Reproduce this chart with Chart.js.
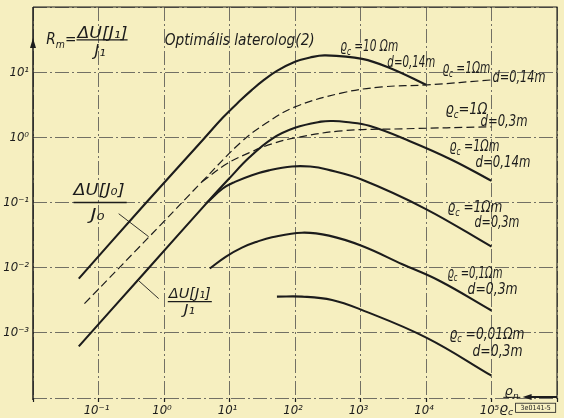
<!DOCTYPE html>
<html><head><meta charset="utf-8">
<script src="https://cdn.jsdelivr.net/npm/chart.js@4.4.1/dist/chart.umd.min.js"></script>
<style>html,body{margin:0;padding:0;background:#f6efc0;}canvas{display:block;}</style>
</head><body>
<canvas id="c" width="564" height="418"></canvas>
<script>
// ---------- data ----------
const xTickValues = [0.01, 0.1, 1, 10, 100, 1000, 10000, 100000, 1000000];
const xTickLabels = ['', '10⁻¹', '10⁰', '10¹', '10²', '10³', '10⁴', '10⁵', ''];
const yTickValues = [0.0001, 0.001, 0.01, 0.1, 1, 10, 100];
const yTickLabels = ['', '10⁻³', '10⁻²', '10⁻¹', '10⁰', '10¹', ''];

// ΔU[J1]/J1 , ϱc = 10 Ωm, d = 0.14 m
const rc10d014X = [0.05, 0.5, 4, 8, 14.4, 22, 33.6, 53, 100, 170, 288, 1060, 3050, 10000];
const rc10d014Y = [0.0068, 0.0924, 0.935, 2.03, 3.63, 5.35, 7.6, 10.45, 14.4, 16.8, 18.1, 16.0, 11.2, 6.4];
// ΔU[J1]/J1 , ϱc = 1 Ωm, d = 0.14 m
const rc1d014X = [0.05, 0.5, 4.8, 9.8, 19.8, 44.5, 100, 250, 380, 600, 1360, 5560, 25000, 100000];
const rc1d014Y = [0.00062, 0.0083, 0.106, 0.231, 0.485, 0.95, 1.40, 1.74, 1.78, 1.72, 1.50, 0.88, 0.45, 0.215];
// ΔU[J1]/J1 , ϱc = 1 Ωm, d = 0.3 m
const rc1d03X = [4.5, 7.9, 12.1, 22, 40, 90, 170, 310, 1060, 9800, 100000];
const rc1d03Y = [0.099, 0.164, 0.207, 0.263, 0.311, 0.357, 0.356, 0.32, 0.223, 0.080, 0.021];
// ΔU[J1]/J1 , ϱc = 0.1 Ωm, d = 0.3 m
const rc01d03X = [5, 8.85, 15.5, 26.2, 44.5, 128, 330, 1060, 4350, 16000, 100000];
const rc01d03Y = [0.0097, 0.0148, 0.0203, 0.025, 0.0293, 0.0344, 0.031, 0.0215, 0.0113, 0.0063, 0.0022];
// ΔU[J1]/J1 , ϱc = 0.01 Ωm, d = 0.3 m
const rc001d03X = [53, 128, 368, 1020, 10100, 100000];
const rc001d03Y = [0.0036, 0.0036, 0.0032, 0.00227, 0.000845, 0.00022];
// ΔU[J0]/J0 , d = 0.14 m
const j0d014X = [0.061, 0.92, 3.8, 15.5, 37, 100, 525, 2140, 10500, 100000];
const j0d014Y = [0.0028, 0.047, 0.208, 0.869, 1.67, 2.93, 4.81, 5.94, 6.38, 7.6];
// ΔU[J0]/J0 , d = 0.3 m
const j0d03X = [3.8, 9.1, 19.8, 44.5, 100, 525, 4350, 100000];
const j0d03Y = [0.208, 0.392, 0.578, 0.795, 0.98, 1.26, 1.35, 1.45];

// ---------- styling ----------
const BG = '#f6efc0';
const INK = '#1c1c1c';
const GRID = 'rgba(70,70,70,0.75)';
const FONT = '"DejaVu Sans Condensed", "Liberation Sans Narrow", "DejaVu Sans", sans-serif';

function series(xs, ys, extra) {
  return Object.assign({
    data: xs.map((x, i) => ({x: x, y: ys[i]})),
    showLine: true, pointRadius: 0, borderColor: INK, borderWidth: 2.1,
    tension: 0.4, fill: false
  }, extra || {});
}
const dashed = {borderWidth: 1.2, borderDash: [8, 4]};

// text annotations, positioned in decades (log10 of data values)
const notes = [
  {parts: ['R', {sub: 'm'}, '='], lx: -1.796, ly: 1.433, size: 16, w: 30},
  {parts: ['ΔU[J₁]'], lx: -1.321, ly: 1.525, size: 15, w: 50},
  {parts: ['J₁'], lx: -1.06, ly: 1.249, size: 15, w: 11},
  {parts: ['Optimális laterolog(2)'], lx: 0.011, ly: 1.418, size: 16, w: 150},
  {parts: ['ϱ', {sub: 'c'}, ' =10 Ωm'], lx: 2.69, ly: 1.326, size: 16, w: 58},
  {parts: ['d=0,14m'], lx: 3.41, ly: 1.08, size: 15, w: 48},
  {parts: ['ϱ', {sub: 'c'}, ' =1Ωm'], lx: 4.25, ly: 0.988, size: 15, w: 48},
  {parts: ['d=0,14m'], lx: 5.016, ly: 0.851, size: 15, w: 53},
  {parts: ['ϱ', {sub: 'c'}, '=1Ω'], lx: 4.297, ly: 0.36, size: 15, w: 42},
  {parts: ['d=0,3m'], lx: 4.833, ly: 0.176, size: 15, w: 47},
  {parts: ['ϱ', {sub: 'c'}, ' =1Ωm'], lx: 4.358, ly: -0.207, size: 15, w: 50},
  {parts: ['d=0,14m'], lx: 4.756, ly: -0.452, size: 15, w: 55},
  {parts: ['ϱ', {sub: 'c'}, ' =1Ωm'], lx: 4.327, ly: -1.142, size: 15, w: 55},
  {parts: ['d=0,3m'], lx: 4.74, ly: -1.372, size: 15, w: 45},
  {parts: ['ϱ', {sub: 'c'}, ' =0,1Ωm'], lx: 4.327, ly: -2.153, size: 15, w: 55},
  {parts: ['d=0,3m'], lx: 4.635, ly: -2.398, size: 15, w: 50},
  {parts: ['ϱ', {sub: 'c'}, ' =0,01Ωm'], lx: 4.358, ly: -3.088, size: 15, w: 75},
  {parts: ['d=0,3m'], lx: 4.71, ly: -3.349, size: 15, w: 50},
  {parts: ['ΔU[J₀]'], lx: -1.381, ly: -0.881, size: 15, w: 51},
  {parts: ['J₀'], lx: -1.122, ly: -1.264, size: 15, w: 14},
  {parts: ['ΔU[J₁]'], lx: 0.072, ly: -2.46, size: 14, w: 42},
  {parts: ['J₁'], lx: 0.302, ly: -2.705, size: 14, w: 11},
  {parts: ['ϱ', {sub: 'n'}], lx: 5.2, ly: -3.96, size: 13, w: 14},
  {parts: ['ϱ', {sub: 'c'}], lx: 5.12, ly: -4.21, size: 13, w: 14}
];
const strokes = [
  {a: [-1.336, 1.494], b: [-0.556, 1.494], w: 1.2},
  {a: [-1.381, -1.0], b: [-0.57, -1.0], w: 1.3},
  {a: [-0.692, -1.172], b: [-0.234, -1.525], w: 0.9},
  {a: [0.058, -2.521], b: [0.73, -2.521], w: 1.2},
  {a: [-0.387, -2.2], b: [-0.081, -2.475], w: 0.9},
  {a: [5.18, -3.99], b: [5.44, -3.99], w: 1}
];

function partsWidth(ctx, parts, size) {
  let w = 0;
  for (const p of parts) {
    if (typeof p === 'string') { ctx.font = 'italic ' + size + 'px ' + FONT; w += ctx.measureText(p).width; }
    else { ctx.font = 'italic ' + Math.round(size * 0.68) + 'px ' + FONT; w += ctx.measureText(p.sub).width; }
  }
  return w;
}
function drawParts(ctx, parts, size) {
  let cx = 0;
  for (const p of parts) {
    if (typeof p === 'string') {
      ctx.font = 'italic ' + size + 'px ' + FONT; ctx.fillText(p, cx, 0); cx += ctx.measureText(p).width;
    } else {
      ctx.font = 'italic ' + Math.round(size * 0.68) + 'px ' + FONT; ctx.fillText(p.sub, cx, size * 0.25); cx += ctx.measureText(p.sub).width;
    }
  }
}

const decor = {
  id: 'decor',
  beforeDraw(chart) {
    const c = chart.ctx; c.save(); c.fillStyle = BG; c.fillRect(0, 0, chart.width, chart.height); c.restore();
  },
  afterDraw(chart) {
    const c = chart.ctx, xs = chart.scales.x, ys = chart.scales.y, a = chart.chartArea;
    const px = lx => xs.getPixelForValue(Math.pow(10, lx));
    const py = ly => ys.getPixelForValue(Math.pow(10, ly));
    c.save();
    c.strokeStyle = INK; c.fillStyle = INK;
    c.lineWidth = 1.1;
    c.beginPath(); c.moveTo(a.left, a.top); c.lineTo(a.right, a.top); c.lineTo(a.right, a.bottom); c.stroke();
    c.lineWidth = 1.5;
    c.beginPath(); c.moveTo(a.left, a.top); c.lineTo(a.left, a.bottom + 2); c.stroke();
    const tipY = py(1.525);
    c.beginPath(); c.moveTo(a.left, tipY); c.lineTo(a.left - 3, tipY + 10); c.lineTo(a.left + 3, tipY + 10); c.closePath(); c.fill();
    const ay = py(-3.985), ax = px(5.475);
    c.lineWidth = 2;
    c.beginPath(); c.moveTo(ax + 6, ay); c.lineTo(a.right, ay); c.stroke();
    c.beginPath(); c.moveTo(ax, ay); c.lineTo(ax + 9, ay - 3); c.lineTo(ax + 9, ay + 3); c.closePath(); c.fill();
    c.lineWidth = 0.8;
    const bx0 = px(5.368), bx1 = px(5.98), by0 = py(-4.08), by1 = py(-4.22);
    c.strokeRect(bx0, by0, bx1 - bx0, by1 - by0);
    c.font = '7px ' + FONT; c.textBaseline = 'middle'; c.textAlign = 'center';
    c.fillText('3e0141-5', (bx0 + bx1) / 2, (by0 + by1) / 2 + 0.5);
    c.textBaseline = 'alphabetic'; c.textAlign = 'left';
    for (const s of strokes) {
      c.lineWidth = s.w;
      c.beginPath(); c.moveTo(px(s.a[0]), py(s.a[1])); c.lineTo(px(s.b[0]), py(s.b[1])); c.stroke();
    }
    for (const n of notes) {
      const w = partsWidth(c, n.parts, n.size);
      const k = n.w ? n.w / w : 1;
      c.save();
      c.translate(px(n.lx), py(n.ly));
      c.scale(k, 1);
      drawParts(c, n.parts, n.size);
      c.restore();
    }
    c.restore();
  }
};

const tickFont = {family: FONT, style: 'italic', size: 13};

new Chart(document.getElementById('c'), {
  type: 'scatter',
  data: {
    datasets: [
      series(rc10d014X, rc10d014Y),
      series(rc1d014X, rc1d014Y),
      series(rc1d03X, rc1d03Y),
      series(rc01d03X, rc01d03Y),
      series(rc001d03X, rc001d03Y),
      series(j0d014X, j0d014Y, dashed),
      series(j0d03X, j0d03Y, dashed)
    ]
  },
  options: {
    responsive: false,
    animation: false,
    devicePixelRatio: 1,
    layout: {padding: {top: 7, right: 7, left: 0, bottom: 0}},
    plugins: {legend: {display: false}, tooltip: {enabled: false}},
    scales: {
      x: {
        type: 'logarithmic', min: 0.01, max: 1000000,
        afterBuildTicks: s => { s.ticks = xTickValues.map(v => ({value: v})); },
        afterFit: s => { s.height = 20; s.paddingLeft = 0; s.paddingRight = 0; },
        ticks: {autoSkip: false, maxRotation: 0, padding: 1, labelOffset: -2, color: INK, font: tickFont,
          callback: (v, i) => xTickLabels[i]},
        grid: {color: GRID, lineWidth: 1, drawTicks: true, tickLength: 4, tickColor: INK, tickWidth: 1.2},
        border: {display: false, dash: [14, 3, 2, 3]}
      },
      y: {
        type: 'logarithmic', min: 0.0001, max: 100,
        afterBuildTicks: s => { s.ticks = yTickValues.map(v => ({value: v})); },
        afterFit: s => { s.width = 33; s.paddingTop = 0; s.paddingBottom = 0; },
        ticks: {autoSkip: false, padding: 4, color: INK, font: tickFont,
          callback: (v, i) => yTickLabels[i]},
        grid: {color: GRID, lineWidth: 1, drawTicks: false},
        border: {display: false, dash: [14, 3, 2, 3]}
      }
    }
  },
  plugins: [decor]
});
</script>
</body></html>
